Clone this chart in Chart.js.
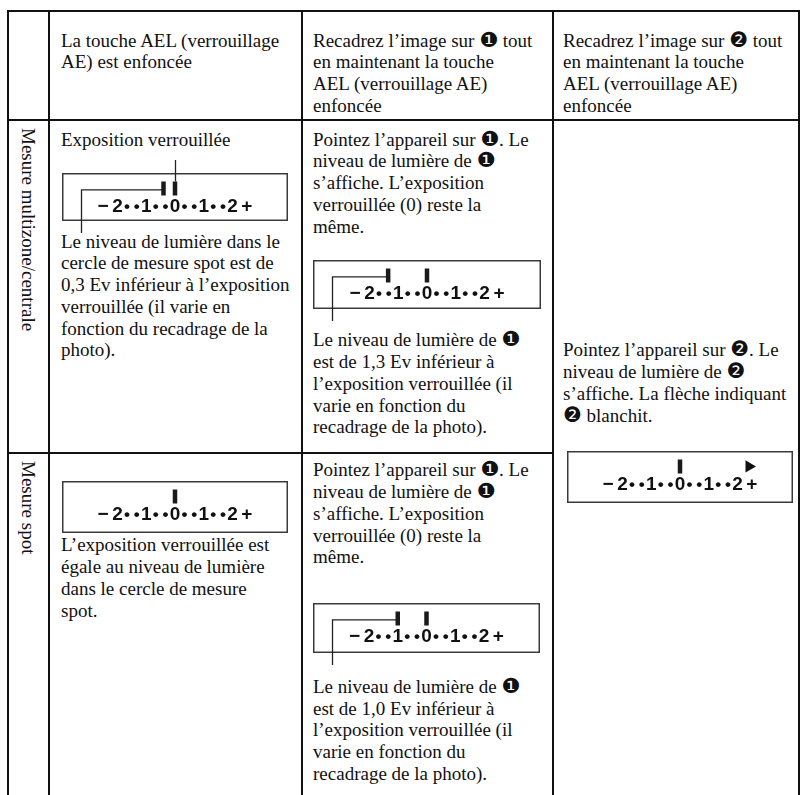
<!DOCTYPE html>
<html>
<head>
<meta charset="utf-8">
<script src="https://cdn.jsdelivr.net/npm/chart.js@4.4.0/dist/chart.umd.min.js"></script>
<style>
  html, body { margin: 0; padding: 0; background: #fff; }
  #page { position: relative; width: 803px; height: 795px; overflow: hidden; background: #fff;
    font-family: "Liberation Serif", "DejaVu Serif", serif; font-size: 19px; line-height: 21.7px; color: #111; }
  .hl { position: absolute; height: 2px; background: #111; }
  .vl { position: absolute; width: 2px; background: #111; }
  .t { position: absolute; white-space: nowrap; }
  .c { font-family: "DejaVu Sans", sans-serif; font-size: 21px; line-height: 0; }
  .vert { position: absolute; writing-mode: vertical-rl; white-space: nowrap; }
  canvas { position: absolute; }
</style>
</head>
<body>
<div id="page">
  <!-- table rules -->
  <div class="hl" style="left:8px; top:10px; width:792px"></div>
  <div class="hl" style="left:8px; top:119px; width:792px"></div>
  <div class="hl" style="left:8px; top:452px; width:546px"></div>
  <div class="vl" style="left:7px; top:10px; height:785px"></div>
  <div class="vl" style="left:48px; top:10px; height:785px"></div>
  <div class="vl" style="left:301px; top:10px; height:785px"></div>
  <div class="vl" style="left:552px; top:10px; height:785px"></div>
  <div class="vl" style="left:798px; top:10px; height:785px"></div>

  <!-- header -->
  <div class="t" style="left:61px; top:29.7px">La touche AEL (verrouillage<br>AE) est enfoncée</div>
  <div class="t" style="left:313px; top:29.7px">Recadrez l’image sur <span class="c">❶</span> tout<br>en maintenant la touche<br>AEL (verrouillage AE)<br>enfoncée</div>
  <div class="t" style="left:563px; top:29.7px">Recadrez l’image sur <span class="c">❷</span> tout<br>en maintenant la touche<br>AEL (verrouillage AE)<br>enfoncée</div>

  <!-- row labels -->
  <div class="vert" style="left:17.6px; top:128px">Mesure multizone/centrale</div>
  <div class="vert" style="left:17.6px; top:461px">Mesure spot</div>

  <!-- row 1 -->
  <div class="t" style="left:61px; top:128.7px">Exposition verrouillée</div>
  <div class="t" style="left:61px; top:230.7px">Le niveau de lumière dans le<br>cercle de mesure spot est de<br>0,3 Ev inférieur à l’exposition<br>verrouillée (il varie en<br>fonction du recadrage de la<br>photo).</div>
  <div class="t" style="left:313px; top:128.7px">Pointez l’appareil sur <span class="c">❶</span>. Le<br>niveau de lumière de <span class="c">❶</span><br>s’affiche. L’exposition<br>verrouillée (0) reste la<br>même.</div>
  <div class="t" style="left:313px; top:329.4px">Le niveau de lumière de <span class="c">❶</span><br>est de 1,3 Ev inférieur à<br>l’exposition verrouillée (il<br>varie en fonction du<br>recadrage de la photo).</div>
  <div class="t" style="left:563px; top:339.4px">Pointez l’appareil sur <span class="c">❷</span>. Le<br>niveau de lumière de <span class="c">❷</span><br>s’affiche. La flèche indiquant<br><span class="c">❷</span> blanchit.</div>

  <!-- row 2 -->
  <div class="t" style="left:61px; top:534.4px">L’exposition verrouillée est<br>égale au niveau de lumière<br>dans le cercle de mesure<br>spot.</div>
  <div class="t" style="left:313px; top:459.4px">Pointez l’appareil sur <span class="c">❶</span>. Le<br>niveau de lumière de <span class="c">❶</span><br>s’affiche. L’exposition<br>verrouillée (0) reste la<br>même.</div>
  <div class="t" style="left:313px; top:676px">Le niveau de lumière de <span class="c">❶</span><br>est de 1,0 Ev inférieur à<br>l’exposition verrouillée (il<br>varie en fonction du<br>recadrage de la photo).</div>

  <canvas id="m1" width="226" height="80" style="left:62px; top:157px"></canvas>
  <canvas id="m2" width="228" height="81" style="left:313px; top:244px"></canvas>
  <canvas id="m3" width="226" height="84" style="left:567px; top:435px"></canvas>
  <canvas id="m4" width="226" height="84" style="left:62px; top:465px"></canvas>
  <canvas id="m5" width="227" height="82" style="left:313px; top:587px"></canvas>
</div>

<script>
// meter scale: tick positions (EV) and their labels
const tickValues = [-2.5, -2, -1.67, -1.33, -1, -0.67, -0.33, 0, 0.33, 0.67, 1, 1.33, 1.67, 2, 2.5];
const tickLabels = ['−', '2', '•', '•', '1', '•', '•', '0', '•', '•', '1', '•', '•', '2', '+'];

// bar indicators shown on each display (EV)
const multiLockMarks = [-0.4, 0];      // multizone, AEL pressed
const multiPoint1Marks = [-1.35, 0];   // multizone, reframed on 1
const spotLockMarks = [0];             // spot, AEL pressed
const spotPoint1Marks = [-1.0, 0];     // spot, reframed on 1
const point2Marks = [0];               // reframed on 2
const point2Arrow = [2.4];             // over-range arrow

const EV_PX = 32;     // pixels per EV on the display
const BOX_TOP = 16;   // box offset inside canvas
const MARK_Y = 0.37;

Chart.defaults.font.family = '"Liberation Sans", Arial, sans-serif';
Chart.defaults.color = '#111';

const meterBox = {
  id: 'meterBox',
  beforeDatasetsDraw(chart, args, opts) {
    const ctx = chart.ctx;
    const xs = chart.scales.x, ys = chart.scales.y;
    ctx.save();
    ctx.strokeStyle = '#3a3a3a';
    ctx.lineWidth = 1.5;
    ctx.strokeRect(0.75, BOX_TOP + 0.75, chart.width - 1.5, opts.boxH - 1.5);
    ctx.strokeStyle = '#222';
    ctx.lineWidth = 1.3;
    (opts.leaders || []).forEach(l => {
      const px = Math.round(xs.getPixelForValue(l.value)) + 0.5;
      const py = ys.getPixelForValue(MARK_Y);
      ctx.beginPath();
      if (l.kind === 'up') {
        ctx.moveTo(px, py - 7);
        ctx.lineTo(px, 3);
      } else {
        ctx.moveTo(px, py + 1.5);
        ctx.lineTo(19.5, py + 1.5);
        ctx.lineTo(19.5, BOX_TOP + opts.boxH + 12);
      }
      ctx.stroke();
    });
    ctx.restore();
  }
};

function makeMeter(id, marks, arrows, leaders) {
  const canvas = document.getElementById(id);
  const w = canvas.width, h = canvas.height;
  const boxH = h - 2 * BOX_TOP;
  const half = w / 2 / EV_PX;
  const datasets = [{
    data: marks.map(v => ({ x: v, y: MARK_Y })),
    pointStyle: 'line',
    rotation: 90,
    radius: 7,
    borderWidth: 4.5,
    borderColor: '#1a1a1a'
  }];
  if (arrows.length) {
    datasets.push({
      data: arrows.map(v => ({ x: v, y: MARK_Y })),
      pointStyle: 'triangle',
      rotation: 90,
      radius: 7,
      borderWidth: 0,
      backgroundColor: '#111',
      borderColor: '#111'
    });
  }
  new Chart(canvas, {
    type: 'scatter',
    data: { datasets },
    options: {
      responsive: false,
      animation: false,
      events: [],
      layout: { padding: { top: BOX_TOP + 2, bottom: h - 60.5, left: 0, right: 0 } },
      plugins: { legend: { display: false }, tooltip: { enabled: false }, meterBox: { boxH, leaders } },
      scales: {
        x: {
          type: 'linear', min: -half, max: half,
          grid: { display: false, drawTicks: false },
          border: { display: false },
          afterBuildTicks: axis => { axis.ticks = tickValues.map(v => ({ value: v })); },
          ticks: {
            autoSkip: false, maxRotation: 0, padding: 0,
            callback: (val, i) => tickLabels[i],
            font: ctx => tickLabels[ctx.index] === '•'
              ? { size: 17, weight: 'bold', lineHeight: '22px' }
              : { size: 19, weight: 'bold', lineHeight: '22px' }
          }
        },
        y: { display: false, min: 0, max: 1 }
      }
    },
    plugins: [meterBox]
  });
}

makeMeter('m1', multiLockMarks, [], [{ value: 0, kind: 'up' }, { value: multiLockMarks[0], kind: 'left' }]);
makeMeter('m2', multiPoint1Marks, [], [{ value: multiPoint1Marks[0], kind: 'left' }]);
makeMeter('m3', point2Marks, point2Arrow, []);
makeMeter('m4', spotLockMarks, [], []);
makeMeter('m5', spotPoint1Marks, [], [{ value: spotPoint1Marks[0], kind: 'left' }]);
</script>
</body>
</html>
